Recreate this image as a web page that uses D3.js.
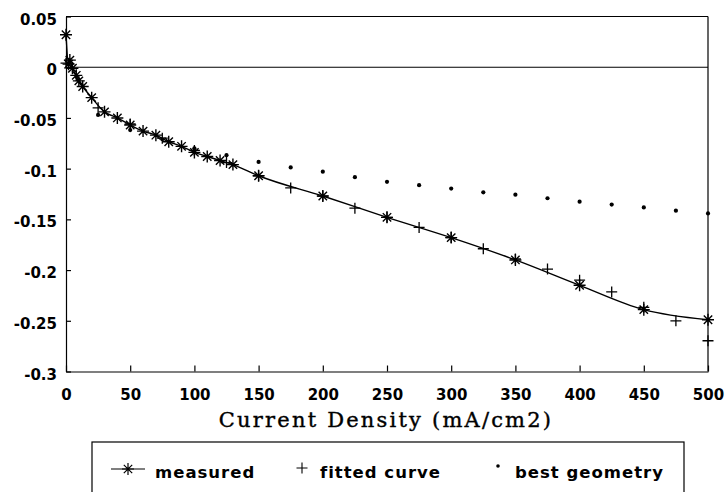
<!DOCTYPE html>
<html>
<head>
<meta charset="utf-8">
<script src="https://cdn.jsdelivr.net/npm/d3@7/dist/d3.min.js"></script>
<style>
  body { margin: 0; background: #fff; }
  svg { display: block; }
</style>
</head>
<body>
<div id="chart"></div>
<script>
// values
const measuredX = [0, 2, 3, 5, 8, 10, 13, 20, 30, 40, 50, 60, 70, 80, 90, 100, 110, 120, 130, 150, 200, 250, 300, 350, 400, 450, 500];
const measuredY = [0.032, 0.003, 0.007, -0.001, -0.008, -0.0135, -0.019, -0.030, -0.044, -0.050, -0.057, -0.063, -0.067, -0.0735, -0.078, -0.084, -0.088, -0.092, -0.096, -0.107, -0.127, -0.148, -0.168, -0.190, -0.215, -0.239, -0.249];

const fittedX = [0, 25, 50, 75, 100, 125, 150, 175, 200, 225, 250, 275, 300, 325, 350, 375, 400, 425, 450, 475, 500];
const fittedY = [0.004, -0.040, -0.056, -0.070, -0.082, -0.094, -0.107, -0.119, -0.127, -0.139, -0.148, -0.158, -0.168, -0.179, -0.189, -0.199, -0.210, -0.2215, -0.2367, -0.250, -0.2697];

const geometryX = [25, 50, 75, 100, 125, 150, 175, 200, 225, 250, 275, 300, 325, 350, 375, 400, 425, 450, 475, 500];
const geometryY = [-0.047, -0.062, -0.071, -0.080, -0.0867, -0.0934, -0.0988, -0.103, -0.1084, -0.113, -0.1163, -0.1197, -0.1233, -0.1257, -0.1292, -0.1326, -0.1354, -0.1382, -0.1414, -0.1442];

const xTicks = [0, 50, 100, 150, 200, 250, 300, 350, 400, 450, 500];
const yTicks = [0.05, 0, -0.05, -0.1, -0.15, -0.2, -0.25, -0.3];
const yTickLabels = ["0.05", "0", "-0.05", "-0.1", "-0.15", "-0.2", "-0.25", "-0.3"];
const legendLabels = ["measured", "fitted curve", "best geometry"];
const xTitle = "Current Density (mA/cm2)";

const width = 727, height = 492;
const plot = { left: 66, right: 708, top: 16.5, bottom: 371.5 };

const svg = d3.select("#chart")
  .append("svg")
  .attr("width", width)
  .attr("height", height);

const x = d3.scaleLinear().domain([0, 500]).range([plot.left, plot.right]);
const y = d3.scaleLinear().domain([-0.3, 0.05]).range([plot.bottom, plot.top]);

const tickFont = "'DejaVu Sans', sans-serif";

// axes: ticks point inward
const xAxis = svg.append("g")
  .attr("transform", `translate(0,${plot.bottom})`)
  .call(d3.axisBottom(x).tickValues(xTicks).tickSize(-6).tickSizeOuter(0).tickPadding(18));

const yAxis = svg.append("g")
  .attr("transform", `translate(${plot.left},0)`)
  .call(d3.axisLeft(y).tickValues(yTicks).tickSize(-5).tickSizeOuter(0).tickPadding(9)
    .tickFormat((d, i) => yTickLabels[i]));

[xAxis, yAxis].forEach(a => {
  a.selectAll("path, line").attr("stroke", "#000").attr("stroke-width", 1.2);
  a.selectAll("text")
    .style("font-family", tickFont)
    .style("font-weight", "bold")
    .style("font-size", "15px")
    .attr("fill", "#000");
});
yAxis.selectAll("text").attr("dy", "0.5em");

// top and right frame lines
svg.append("line")
  .attr("x1", plot.left).attr("x2", plot.right)
  .attr("y1", y(0.05)).attr("y2", y(0.05))
  .attr("stroke", "#000").attr("stroke-width", 1.2);
svg.append("line")
  .attr("x1", plot.right).attr("x2", plot.right)
  .attr("y1", plot.top).attr("y2", plot.bottom)
  .attr("stroke", "#000").attr("stroke-width", 1.2);

// zero line
svg.append("line")
  .attr("x1", plot.left).attr("x2", plot.right)
  .attr("y1", y(0)).attr("y2", y(0))
  .attr("stroke", "#000").attr("stroke-width", 1.1);

const measured = measuredX.map((d, i) => ({ x: d, y: measuredY[i] }));
const fitted = fittedX.map((d, i) => ({ x: d, y: fittedY[i] }));
const geometry = geometryX.map((d, i) => ({ x: d, y: geometryY[i] }));

const asterisk = "M-6,0L6,0M0,-6L0,6M-4.2,-4.2L4.2,4.2M-4.2,4.2L4.2,-4.2";
const plus = "M-5.5,0L5.5,0M0,-5.5L0,5.5";

svg.append("path")
  .datum(measured)
  .attr("fill", "none")
  .attr("stroke", "#000")
  .attr("stroke-width", 1.4)
  .attr("d", d3.line().x(d => x(d.x)).y(d => y(d.y)).curve(d3.curveMonotoneX));

svg.append("g")
  .selectAll("circle")
  .data(geometry)
  .join("circle")
  .attr("cx", d => x(d.x))
  .attr("cy", d => y(d.y))
  .attr("r", 2.1)
  .attr("fill", "#000");

svg.append("g")
  .selectAll("path")
  .data(fitted)
  .join("path")
  .attr("transform", d => `translate(${x(d.x)},${y(d.y)})`)
  .attr("d", plus)
  .attr("stroke", "#000")
  .attr("stroke-width", 1.3);

svg.append("g")
  .selectAll("path")
  .data(measured)
  .join("path")
  .attr("transform", d => `translate(${x(d.x)},${y(d.y)})`)
  .attr("d", asterisk)
  .attr("stroke", "#000")
  .attr("stroke-width", 1.4);

// x axis title
svg.append("text")
  .attr("x", 386)
  .attr("y", 427)
  .attr("text-anchor", "middle")
  .style("font-family", "'DejaVu Serif', serif")
  .style("font-size", "21px")
  .style("letter-spacing", "2.2px")
  .style("stroke", "#000")
  .style("stroke-width", 0.4)
  .text(xTitle);

// legend box (runs off the bottom edge)
const legend = svg.append("g");
legend.append("rect")
  .attr("x", 92).attr("y", 442)
  .attr("width", 592).attr("height", 80)
  .attr("fill", "none")
  .attr("stroke", "#000")
  .attr("stroke-width", 1.2);

const legendY = 469;
legend.append("line")
  .attr("x1", 111).attr("x2", 145)
  .attr("y1", legendY).attr("y2", legendY)
  .attr("stroke", "#000").attr("stroke-width", 1.2);
legend.append("path")
  .attr("transform", `translate(128,${legendY})`)
  .attr("d", asterisk)
  .attr("stroke", "#000").attr("stroke-width", 1.2);
legend.append("path")
  .attr("transform", `translate(302,${legendY - 1})`)
  .attr("d", plus)
  .attr("stroke", "#000").attr("stroke-width", 1.1);
legend.append("circle")
  .attr("cx", 498).attr("cy", legendY - 3).attr("r", 1.8)
  .attr("fill", "#000");

const legendTextX = [155, 320, 515];
legend.selectAll("text.lbl")
  .data(legendLabels)
  .join("text")
  .attr("class", "lbl")
  .attr("x", (d, i) => legendTextX[i])
  .attr("y", 478)
  .style("font-family", tickFont)
  .style("font-weight", "bold")
  .style("font-size", "16.5px")
  .style("letter-spacing", "1px")
  .text(d => d);
</script>
</body>
</html>
